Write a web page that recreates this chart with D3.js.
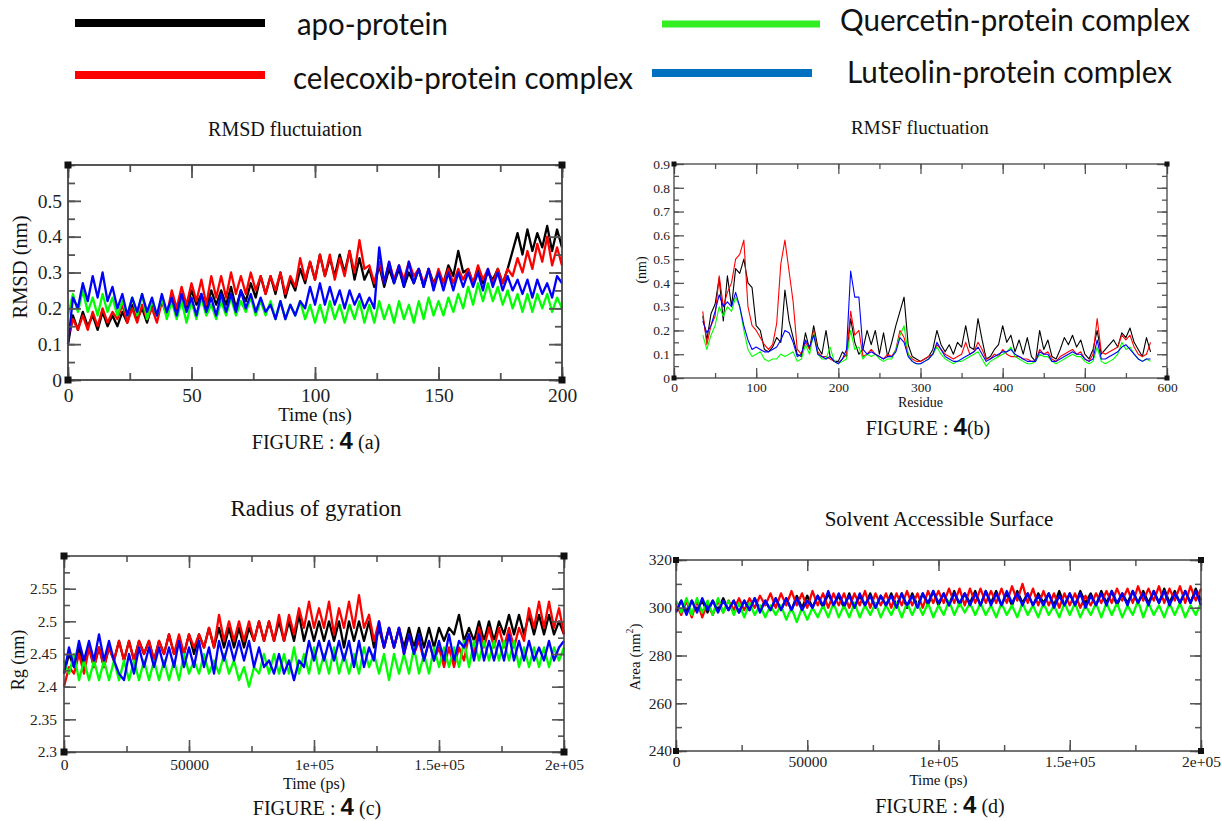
<!DOCTYPE html>
<html>
<head>
<meta charset="utf-8">
<script src="https://cdn.jsdelivr.net/npm/d3@7"></script>
<style>
  html, body { margin: 0; padding: 0; background: #fff; }
  svg { display: block; }
</style>
</head>
<body>
<div id="chart"></div>
<script>
// series shared by the four panels
const seriesNames = ["apo-protein", "celecoxib-protein complex", "Quercetin-protein complex", "Luteolin-protein complex"];
const seriesColors = ["#000000", "#ff0000", "#00ff00", "#0000ff"];
const legendColors = ["#000000", "#ff0000", "#33ee22", "#0070c0"];

// (a) RMSD, one value every 2 ns from 0 to 200 ns
const rmsdTime = d3.range(0, 201, 2);
const rmsdApo = [0.10,0.18,0.14,0.19,0.15,0.18,0.14,0.19,0.15,0.18,0.15,
  0.19,0.16,0.21,0.17,0.20,0.16,0.21,0.18,0.22,0.18,
  0.23,0.19,0.24,0.20,0.25,0.21,0.24,0.20,0.25,0.21,
  0.25,0.21,0.26,0.20,0.25,0.22,0.27,0.23,0.29,0.24,
  0.29,0.24,0.30,0.23,0.28,0.25,0.31,0.27,0.33,0.28,
  0.35,0.29,0.34,0.29,0.35,0.30,0.36,0.28,0.34,0.28,
  0.31,0.26,0.32,0.26,0.31,0.27,0.31,0.26,0.30,0.27,
  0.31,0.26,0.31,0.27,0.30,0.27,0.32,0.29,0.36,0.30,
  0.31,0.27,0.31,0.27,0.30,0.28,0.31,0.27,0.31,0.36,
  0.41,0.35,0.42,0.36,0.41,0.37,0.43,0.36,0.42,0.37];
const rmsdCelecoxib = [0.12,0.17,0.14,0.18,0.14,0.19,0.15,0.20,0.16,0.19,0.17,
  0.21,0.16,0.20,0.16,0.21,0.17,0.20,0.16,0.22,0.18,
  0.25,0.20,0.26,0.21,0.27,0.22,0.28,0.21,0.29,0.23,
  0.29,0.23,0.30,0.24,0.29,0.24,0.30,0.25,0.29,0.24,
  0.29,0.25,0.30,0.24,0.29,0.26,0.34,0.28,0.33,0.28,
  0.35,0.29,0.35,0.28,0.34,0.29,0.36,0.30,0.39,0.31,
  0.32,0.27,0.33,0.27,0.33,0.28,0.32,0.28,0.33,0.29,
  0.31,0.27,0.31,0.26,0.31,0.27,0.31,0.27,0.31,0.28,
  0.31,0.27,0.32,0.28,0.31,0.27,0.31,0.27,0.31,0.29,
  0.34,0.30,0.36,0.31,0.38,0.33,0.40,0.32,0.37,0.32];
const rmsdQuercetin = [0.18,0.24,0.19,0.25,0.19,0.23,0.18,0.24,0.19,0.23,0.18,
  0.22,0.18,0.23,0.18,0.24,0.17,0.22,0.18,0.23,0.17,
  0.22,0.17,0.22,0.16,0.22,0.17,0.23,0.18,0.21,0.17,
  0.22,0.18,0.23,0.18,0.22,0.19,0.23,0.18,0.22,0.18,
  0.22,0.17,0.22,0.17,0.21,0.18,0.22,0.17,0.21,0.16,
  0.21,0.16,0.22,0.17,0.21,0.16,0.21,0.17,0.22,0.16,
  0.21,0.16,0.22,0.17,0.21,0.16,0.22,0.17,0.21,0.16,
  0.22,0.17,0.23,0.18,0.22,0.18,0.23,0.19,0.24,0.20,
  0.26,0.21,0.27,0.22,0.27,0.22,0.26,0.21,0.25,0.20,
  0.24,0.19,0.24,0.19,0.24,0.20,0.24,0.19,0.23,0.20];
const rmsdLuteolin = [0.10,0.23,0.20,0.27,0.22,0.29,0.23,0.30,0.22,0.26,0.20,
  0.24,0.18,0.23,0.19,0.24,0.19,0.23,0.18,0.24,0.19,
  0.23,0.18,0.24,0.19,0.23,0.18,0.24,0.19,0.23,0.18,
  0.24,0.19,0.24,0.19,0.25,0.20,0.24,0.19,0.23,0.19,
  0.21,0.17,0.22,0.17,0.21,0.18,0.22,0.20,0.26,0.21,
  0.27,0.21,0.26,0.21,0.25,0.20,0.25,0.21,0.24,0.20,
  0.23,0.20,0.37,0.27,0.33,0.27,0.32,0.26,0.33,0.27,
  0.31,0.26,0.31,0.25,0.30,0.25,0.30,0.25,0.30,0.26,
  0.30,0.26,0.30,0.25,0.31,0.26,0.30,0.25,0.29,0.25,
  0.28,0.24,0.28,0.23,0.28,0.24,0.27,0.23,0.29,0.27];

// (b) RMSF, residues 35..580 every 5
const rmsfResidue = d3.range(35, 581, 5);
const rmsfApo = [0.26,0.16,0.27,0.31,0.42,0.24,0.43,0.30,0.46,0.44,
  0.50,0.40,0.38,0.22,0.20,0.12,0.11,0.13,0.17,0.15,
  0.37,0.24,0.17,0.10,0.09,0.19,0.12,0.22,0.13,0.10,
  0.20,0.09,0.07,0.07,0.11,0.09,0.25,0.15,0.10,0.12,
  0.20,0.14,0.20,0.10,0.19,0.09,0.15,0.22,0.28,0.34,
  0.14,0.09,0.08,0.07,0.08,0.09,0.12,0.20,0.14,0.11,
  0.14,0.10,0.15,0.13,0.22,0.13,0.12,0.25,0.16,0.08,
  0.09,0.12,0.14,0.22,0.15,0.18,0.11,0.16,0.10,0.17,
  0.09,0.07,0.20,0.12,0.16,0.09,0.08,0.12,0.17,0.14,
  0.18,0.13,0.16,0.10,0.08,0.12,0.20,0.10,0.12,0.14,
  0.16,0.13,0.19,0.17,0.21,0.15,0.12,0.09,0.17,0.11];
const rmsfCelecoxib = [0.28,0.14,0.22,0.26,0.43,0.30,0.36,0.40,0.50,0.52,
  0.58,0.30,0.22,0.20,0.17,0.14,0.12,0.14,0.23,0.48,
  0.58,0.45,0.32,0.12,0.10,0.15,0.12,0.20,0.11,0.09,
  0.09,0.08,0.07,0.06,0.08,0.10,0.28,0.18,0.20,0.09,
  0.10,0.12,0.10,0.09,0.08,0.10,0.09,0.12,0.20,0.17,
  0.10,0.08,0.07,0.07,0.08,0.09,0.10,0.14,0.12,0.10,
  0.09,0.08,0.09,0.10,0.15,0.10,0.11,0.15,0.12,0.08,
  0.08,0.10,0.09,0.12,0.10,0.09,0.09,0.09,0.08,0.08,
  0.07,0.07,0.12,0.10,0.11,0.08,0.07,0.09,0.10,0.11,
  0.12,0.10,0.11,0.08,0.07,0.10,0.25,0.11,0.10,0.11,
  0.12,0.13,0.18,0.16,0.18,0.13,0.10,0.09,0.10,0.15];
const rmsfQuercetin = [0.18,0.12,0.18,0.22,0.30,0.26,0.30,0.28,0.34,0.30,
  0.20,0.12,0.09,0.10,0.11,0.08,0.07,0.08,0.08,0.10,
  0.09,0.10,0.11,0.07,0.08,0.14,0.10,0.19,0.10,0.08,
  0.08,0.13,0.07,0.06,0.07,0.08,0.20,0.12,0.13,0.08,
  0.10,0.09,0.10,0.08,0.07,0.08,0.08,0.12,0.18,0.22,
  0.10,0.07,0.06,0.06,0.07,0.08,0.10,0.13,0.10,0.08,
  0.07,0.06,0.07,0.07,0.08,0.09,0.10,0.11,0.08,0.05,
  0.07,0.08,0.09,0.10,0.11,0.13,0.09,0.08,0.07,0.06,
  0.06,0.07,0.10,0.09,0.09,0.07,0.06,0.07,0.08,0.09,
  0.10,0.09,0.09,0.07,0.06,0.07,0.13,0.07,0.06,0.07,
  0.08,0.10,0.15,0.12,0.13,0.10,0.08,0.07,0.08,0.07];
const rmsfLuteolin = [0.24,0.19,0.22,0.28,0.35,0.30,0.32,0.30,0.36,0.30,
  0.22,0.16,0.12,0.13,0.12,0.11,0.11,0.12,0.13,0.16,
  0.20,0.19,0.15,0.09,0.10,0.16,0.13,0.18,0.10,0.09,
  0.08,0.09,0.07,0.06,0.08,0.12,0.45,0.34,0.34,0.12,
  0.10,0.11,0.10,0.09,0.08,0.09,0.09,0.11,0.17,0.15,
  0.09,0.07,0.06,0.06,0.07,0.08,0.10,0.15,0.12,0.09,
  0.08,0.07,0.07,0.08,0.09,0.10,0.11,0.13,0.10,0.07,
  0.08,0.09,0.10,0.11,0.11,0.12,0.10,0.09,0.08,0.07,
  0.07,0.07,0.11,0.10,0.10,0.07,0.07,0.08,0.09,0.10,
  0.11,0.10,0.10,0.08,0.07,0.08,0.16,0.08,0.08,0.09,
  0.10,0.11,0.13,0.14,0.12,0.10,0.08,0.07,0.08,0.08];

// (c) radius of gyration, every 2000 ps
const rgTime = d3.range(0, 200001, 2000);
const rgApo = [2.42,2.45,2.43,2.46,2.43,2.46,2.43,2.46,2.43,2.46,2.44,
  2.47,2.44,2.47,2.44,2.47,2.45,2.47,2.44,2.47,2.45,
  2.48,2.45,2.47,2.45,2.48,2.45,2.48,2.46,2.49,2.46,
  2.49,2.46,2.49,2.46,2.49,2.46,2.49,2.47,2.50,2.47,
  2.50,2.47,2.50,2.47,2.50,2.47,2.51,2.47,2.50,2.47,
  2.50,2.47,2.50,2.47,2.50,2.46,2.50,2.47,2.50,2.47,
  2.50,2.46,2.49,2.46,2.49,2.46,2.49,2.46,2.49,2.46,
  2.49,2.46,2.49,2.46,2.49,2.47,2.49,2.48,2.51,2.47,
  2.49,2.47,2.50,2.47,2.50,2.47,2.50,2.48,2.51,2.48,
  2.51,2.48,2.51,2.48,2.51,2.48,2.51,2.48,2.50,2.48];
const rgCelecoxib = [2.40,2.43,2.42,2.45,2.42,2.46,2.43,2.46,2.43,2.46,2.44,
  2.47,2.44,2.47,2.44,2.47,2.45,2.47,2.44,2.47,2.45,
  2.48,2.45,2.48,2.45,2.48,2.46,2.48,2.46,2.49,2.46,
  2.51,2.47,2.50,2.47,2.50,2.47,2.50,2.47,2.50,2.47,
  2.50,2.47,2.51,2.47,2.51,2.48,2.52,2.49,2.53,2.49,
  2.52,2.49,2.53,2.48,2.52,2.49,2.53,2.49,2.54,2.49,
  2.51,2.47,2.50,2.46,2.49,2.46,2.49,2.45,2.48,2.45,
  2.47,2.44,2.47,2.44,2.46,2.43,2.46,2.43,2.46,2.44,
  2.48,2.45,2.49,2.46,2.49,2.46,2.49,2.46,2.49,2.46,
  2.49,2.47,2.52,2.49,2.53,2.49,2.53,2.49,2.52,2.48];
const rgQuercetin = [2.44,2.42,2.45,2.41,2.44,2.41,2.44,2.41,2.44,2.41,2.44,
  2.41,2.44,2.41,2.44,2.41,2.44,2.41,2.44,2.41,2.44,
  2.41,2.44,2.41,2.45,2.42,2.44,2.42,2.45,2.42,2.44,
  2.42,2.45,2.42,2.44,2.41,2.43,2.40,2.43,2.42,2.45,
  2.42,2.45,2.42,2.45,2.42,2.46,2.42,2.45,2.42,2.46,
  2.42,2.45,2.42,2.46,2.42,2.45,2.42,2.45,2.42,2.46,
  2.43,2.45,2.42,2.45,2.41,2.45,2.42,2.45,2.42,2.46,
  2.42,2.45,2.42,2.46,2.43,2.46,2.43,2.46,2.43,2.47,
  2.43,2.47,2.44,2.47,2.44,2.47,2.44,2.47,2.44,2.47,
  2.43,2.46,2.43,2.46,2.43,2.46,2.43,2.46,2.44,2.46];
const rgLuteolin = [2.42,2.46,2.43,2.47,2.44,2.47,2.44,2.48,2.44,2.47,2.44,
  2.42,2.41,2.45,2.42,2.46,2.43,2.46,2.43,2.46,2.43,
  2.46,2.43,2.47,2.43,2.46,2.43,2.47,2.43,2.46,2.42,
  2.47,2.44,2.47,2.44,2.47,2.44,2.47,2.43,2.46,2.43,
  2.44,2.42,2.45,2.42,2.44,2.41,2.44,2.43,2.47,2.44,
  2.47,2.44,2.47,2.44,2.47,2.44,2.47,2.43,2.47,2.43,
  2.46,2.44,2.50,2.46,2.49,2.46,2.49,2.45,2.48,2.45,
  2.48,2.44,2.47,2.44,2.47,2.44,2.48,2.44,2.47,2.46,
  2.48,2.44,2.48,2.44,2.47,2.44,2.47,2.44,2.48,2.44,
  2.47,2.44,2.47,2.44,2.46,2.44,2.47,2.44,2.46,2.47];

// (d) solvent accessible surface, every 2000 ps
const sasTime = d3.range(0, 200001, 2000);
const sasApo = [299,303,298,303,299,303,298,303,299,304,299,
  303,298,303,299,304,299,303,299,304,299,
  304,299,305,300,305,300,305,300,306,301,
  305,300,306,300,305,301,306,300,305,301,
  306,301,306,300,306,301,306,301,307,301,
  306,301,307,301,306,302,307,301,307,302,
  307,301,306,301,307,302,306,301,306,302,
  306,301,307,301,306,301,307,302,306,301,
  307,302,307,301,306,302,307,302,307,302,
  307,302,308,302,307,302,307,302,308,303];
const sasCelecoxib = [302,297,303,296,303,296,302,297,303,298,303,
  299,304,299,304,300,305,301,306,300,306,
  301,307,301,306,300,307,301,306,300,306,
  301,306,300,306,301,307,300,306,301,306,
  300,306,301,307,301,306,300,307,302,307,
  302,308,302,308,301,308,302,308,302,307,
  302,308,302,309,303,310,302,308,301,307,
  301,306,300,306,301,306,300,305,301,306,
  302,307,302,308,303,308,302,309,303,308,
  303,309,302,308,303,309,302,309,303,308];
const sasQuercetin = [303,298,304,297,304,298,303,297,304,298,303,
  297,302,296,302,297,301,296,301,297,301,
  295,300,294,300,295,300,296,301,296,302,
  296,301,296,302,296,301,297,302,296,301,
  297,302,296,302,297,302,297,302,296,301,
  297,303,297,302,298,302,297,302,297,301,
  296,302,297,301,296,302,297,301,296,302,
  297,301,296,302,297,302,296,301,297,302,
  296,302,297,302,296,301,297,303,296,302,
  297,301,296,302,297,302,296,301,297,302];
const sasLuteolin = [298,303,297,303,298,304,299,303,298,303,299,
  303,298,303,299,304,298,303,299,304,299,
  304,299,304,299,303,300,305,301,307,301,
  306,301,305,300,306,301,305,300,305,301,
  305,300,306,301,305,300,306,302,307,302,
  306,301,306,302,306,301,306,301,307,301,
  306,301,307,302,306,301,306,301,305,301,
  306,300,305,301,306,301,306,300,305,301,
  306,301,307,302,306,301,307,302,306,301,
  307,302,307,301,306,302,307,302,307,301];

// tick values and labels
const rmsdXTicks = [0, 50, 100, 150, 200];
const rmsdXLabels = ["0", "50", "100", "150", "200"];
const rmsdYTicks = [0, 0.1, 0.2, 0.3, 0.4, 0.5];
const rmsdYLabels = ["0", "0.1", "0.2", "0.3", "0.4", "0.5"];
const rmsfXTicks = [0, 100, 200, 300, 400, 500, 600];
const rmsfXLabels = ["0", "100", "200", "300", "400", "500", "600"];
const rmsfYTicks = [0, 0.1, 0.2, 0.3, 0.4, 0.5, 0.6, 0.7, 0.8, 0.9];
const rmsfYLabels = ["0", "0.1", "0.2", "0.3", "0.4", "0.5", "0.6", "0.7", "0.8", "0.9"];
const psXTicks = [0, 50000, 100000, 150000, 200000];
const psXLabels = ["0", "50000", "1e+05", "1.5e+05", "2e+05"];
const rgYTicks = [2.3, 2.35, 2.4, 2.45, 2.5, 2.55];
const rgYLabels = ["2.3", "2.35", "2.4", "2.45", "2.5", "2.55"];
const sasYTicks = [240, 260, 280, 300, 320];
const sasYLabels = ["240", "260", "280", "300", "320"];

const W = 1222, H = 821;
const serif = "'Liberation Serif', 'Times New Roman', serif";

const svg = d3.select("#chart").append("svg")
    .attr("width", W)
    .attr("height", H)
    .attr("viewBox", `0 0 ${W} ${H}`);

// legend at the top
const legendItems = [
    { x1: 75, x2: 265, ly: 23, w: 8, tx: 297, ty: 35, len: 151 },
    { x1: 75, x2: 265, ly: 75, w: 8, tx: 293, ty: 89, len: 340 },
    { x1: 662, x2: 820, ly: 24, w: 7, tx: 840, ty: 31, len: 350 },
    { x1: 652, x2: 812, ly: 73, w: 8, tx: 847, ty: 83, len: 325 }
];
legendItems.forEach((it, k) => {
    svg.append("line")
        .attr("x1", it.x1).attr("x2", it.x2)
        .attr("y1", it.ly).attr("y2", it.ly)
        .attr("stroke", legendColors[k])
        .attr("stroke-width", it.w);
    svg.append("text")
        .attr("x", it.tx).attr("y", it.ty)
        .attr("font-family", "Lato, 'Open Sans', sans-serif")
        .attr("font-size", 30)
        .attr("textLength", it.len)
        .attr("lengthAdjust", "spacingAndGlyphs")
        .attr("fill", "#111")
        .text(seriesNames[k]);
});

function drawPanel(p) {
    const x = d3.scaleLinear().domain(p.xDomain).range([p.left, p.right]);
    const y = d3.scaleLinear().domain(p.yDomain).range([p.bottom, p.top]);
    const g = svg.append("g");

    // data lines
    p.series.forEach((vals, k) => {
        const line = d3.line()
            .x((d, i) => x(p.xs[i]))
            .y(d => y(d));
        g.append("path")
            .attr("d", line(vals))
            .attr("fill", "none")
            .attr("stroke", seriesColors[k])
            .attr("stroke-width", p.lineWidth)
            .attr("stroke-linejoin", "round");
    });

    // axes with inward ticks, minor ones first
    const xMinor = d3.range(p.xDomain[0], p.xDomain[1] + 1e-9, p.xMinorStep);
    const yMinor = d3.range(p.yDomain[0], p.yDomain[1] + 1e-9, p.yMinorStep);
    const specs = [
        { axis: d3.axisBottom(x), tr: `translate(0,${p.bottom})`, ticks: xMinor, len: p.minorLen, labels: null },
        { axis: d3.axisTop(x), tr: `translate(0,${p.top})`, ticks: xMinor, len: p.minorLen, labels: null },
        { axis: d3.axisLeft(y), tr: `translate(${p.left},0)`, ticks: yMinor, len: p.minorLen, labels: null },
        { axis: d3.axisRight(y), tr: `translate(${p.right},0)`, ticks: yMinor, len: p.minorLen, labels: null },
        { axis: d3.axisBottom(x), tr: `translate(0,${p.bottom})`, ticks: p.xTicks, len: p.majorLen, labels: p.xLabels, pad: p.xPad },
        { axis: d3.axisTop(x), tr: `translate(0,${p.top})`, ticks: p.xTicks, len: p.majorLen, labels: null },
        { axis: d3.axisLeft(y), tr: `translate(${p.left},0)`, ticks: p.yTicks, len: p.majorLen, labels: p.yLabels, pad: p.yPad },
        { axis: d3.axisRight(y), tr: `translate(${p.right},0)`, ticks: p.yTicks, len: p.majorLen, labels: null }
    ];
    specs.forEach(s => {
        s.axis.tickValues(s.ticks)
            .tickSizeInner(-s.len)
            .tickSizeOuter(0)
            .tickPadding(s.pad || 0)
            .tickFormat((d, i) => s.labels ? s.labels[i] : "");
        const ag = g.append("g").attr("transform", s.tr).call(s.axis);
        ag.select(".domain").remove();
        ag.selectAll("line").attr("stroke", "#555").attr("stroke-width", p.tickWidth);
        ag.selectAll("text")
            .attr("font-family", serif)
            .attr("font-size", p.tickFont)
            .attr("fill", "#222");
    });

    // frame and corner squares
    g.append("rect")
        .attr("x", p.left).attr("y", p.top)
        .attr("width", p.right - p.left).attr("height", p.bottom - p.top)
        .attr("fill", "none")
        .attr("stroke", "#444")
        .attr("stroke-width", p.frameWidth);
    [[p.left, p.top], [p.right, p.top], [p.left, p.bottom], [p.right, p.bottom]].forEach(c => {
        g.append("rect")
            .attr("x", c[0] - p.corner / 2).attr("y", c[1] - p.corner / 2)
            .attr("width", p.corner).attr("height", p.corner)
            .attr("fill", "#111");
    });

    // texts
    g.append("text")
        .attr("x", p.titleX).attr("y", p.titleY)
        .attr("text-anchor", "middle")
        .attr("font-family", serif)
        .attr("font-size", p.titleFont)
        .attr("fill", "#111")
        .text(p.title);
    g.append("text")
        .attr("x", (p.left + p.right) / 2).attr("y", p.xTitleY)
        .attr("text-anchor", "middle")
        .attr("font-family", serif)
        .attr("font-size", p.xTitleFont)
        .attr("fill", "#111")
        .text(p.xTitle);
    const yt = g.append("text")
        .attr("transform", `translate(${p.yTitleX},${p.yTitleY}) rotate(-90)`)
        .attr("text-anchor", "middle")
        .attr("font-family", serif)
        .attr("font-size", p.yTitleFont)
        .attr("fill", "#111");
    p.yTitle.forEach(part => {
        const ts = yt.append("tspan").text(part.t);
        if (part.sup) ts.attr("font-size", p.yTitleFont * 0.65).attr("dy", -p.yTitleFont * 0.45);
        if (part.down) ts.attr("dy", p.yTitleFont * 0.45);
    });

    // figure caption
    const cap = g.append("text")
        .attr("x", p.capX).attr("y", p.capY)
        .attr("text-anchor", "middle")
        .attr("font-family", serif)
        .attr("font-size", 20)
        .attr("fill", "#111");
    cap.append("tspan").text("FIGURE : ");
    cap.append("tspan")
        .attr("font-family", "'Liberation Sans', Arial, sans-serif")
        .attr("font-weight", "bold")
        .attr("font-size", 24)
        .text("4");
    cap.append("tspan").text(p.capSuffix);
}

drawPanel({
    left: 68, right: 562, top: 165, bottom: 380,
    xDomain: [0, 200], yDomain: [0, 0.6],
    xs: rmsdTime, series: [rmsdApo, rmsdCelecoxib, rmsdQuercetin, rmsdLuteolin],
    lineWidth: 2.3,
    xTicks: rmsdXTicks, xLabels: rmsdXLabels, xMinorStep: 25,
    yTicks: rmsdYTicks, yLabels: rmsdYLabels, yMinorStep: 0.05,
    majorLen: 13, minorLen: 7, tickWidth: 1.8, frameWidth: 1.8, corner: 7,
    tickFont: 19.5, xPad: 8, yPad: 6,
    title: "RMSD fluctuiation", titleX: 285, titleY: 136, titleFont: 20,
    xTitle: "Time (ns)", xTitleY: 421, xTitleFont: 19,
    yTitle: [{ t: "RMSD (nm)" }], yTitleX: 27, yTitleY: 267, yTitleFont: 20.5,
    capX: 316, capY: 449, capSuffix: " (a)"
});

drawPanel({
    left: 674, right: 1167, top: 164, bottom: 378,
    xDomain: [0, 600], yDomain: [0, 0.9],
    xs: rmsfResidue, series: [rmsfApo, rmsfCelecoxib, rmsfQuercetin, rmsfLuteolin],
    lineWidth: 1.1,
    xTicks: rmsfXTicks, xLabels: rmsfXLabels, xMinorStep: 50,
    yTicks: rmsfYTicks, yLabels: rmsfYLabels, yMinorStep: 0.05,
    majorLen: 10, minorLen: 5, tickWidth: 1.3, frameWidth: 1.3, corner: 5,
    tickFont: 13.5, xPad: 4, yPad: 4,
    title: "RMSF fluctuation", titleX: 920, titleY: 134, titleFont: 19,
    xTitle: "Residue", xTitleY: 407, xTitleFont: 14,
    yTitle: [{ t: "(nm)" }], yTitleX: 646, yTitleY: 270, yTitleFont: 14,
    capX: 928, capY: 435, capSuffix: "(b)"
});

drawPanel({
    left: 64, right: 564, top: 556, bottom: 752,
    xDomain: [0, 200000], yDomain: [2.3, 2.6],
    xs: rgTime, series: [rgApo, rgCelecoxib, rgQuercetin, rgLuteolin],
    lineWidth: 2.3,
    xTicks: psXTicks, xLabels: psXLabels, xMinorStep: 25000,
    yTicks: rgYTicks, yLabels: rgYLabels, yMinorStep: 0.025,
    majorLen: 12, minorLen: 6, tickWidth: 1.6, frameWidth: 1.6, corner: 7,
    tickFont: 15.5, xPad: 7, yPad: 7,
    title: "Radius of gyration", titleX: 316, titleY: 516, titleFont: 23,
    xTitle: "Time (ps)", xTitleY: 789, xTitleFont: 16,
    yTitle: [{ t: "Rg (nm)" }], yTitleX: 24, yTitleY: 660, yTitleFont: 18,
    capX: 317, capY: 815, capSuffix: " (c)"
});

drawPanel({
    left: 676, right: 1201, top: 560, bottom: 751,
    xDomain: [0, 200000], yDomain: [240, 320],
    xs: sasTime, series: [sasApo, sasCelecoxib, sasQuercetin, sasLuteolin],
    lineWidth: 2.3,
    xTicks: psXTicks, xLabels: psXLabels, xMinorStep: 25000,
    yTicks: sasYTicks, yLabels: sasYLabels, yMinorStep: 10,
    majorLen: 11, minorLen: 6, tickWidth: 1.5, frameWidth: 1.5, corner: 6,
    tickFont: 15.5, xPad: 5, yPad: 4,
    title: "Solvent Accessible Surface", titleX: 939, titleY: 526, titleFont: 21,
    xTitle: "Time (ps)", xTitleY: 785, xTitleFont: 15,
    yTitle: [{ t: "Area (nm" }, { t: "2", sup: true }, { t: ")", down: true }], yTitleX: 640, yTitleY: 657, yTitleFont: 15,
    capX: 940, capY: 813, capSuffix: " (d)"
});
</script>
</body>
</html>
